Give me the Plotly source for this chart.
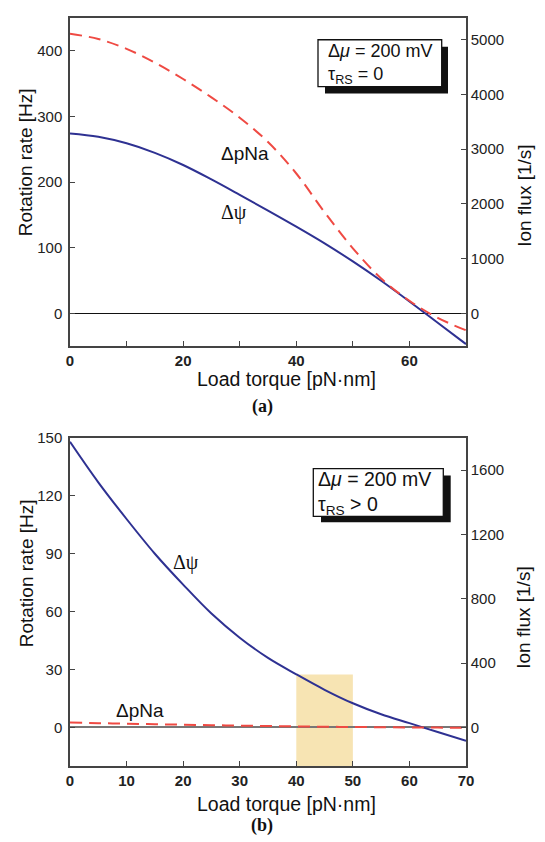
import plotly.graph_objects as go

# ---------------- data ----------------
torque = [0, 5, 10, 15, 20, 25, 30, 35, 40, 45, 50, 55, 60, 65, 70]

# panel (a): tau_RS = 0  (rotation rate, Hz)
rate_a_psi = [274, 269, 259, 244.5, 226, 204, 180.5, 156.5, 132, 106.5, 79, 49.5, 18, -14.5, -47]
rate_a_pna = [426, 418, 403, 382, 357, 329, 298, 261, 213, 154, 99, 53, 19, -7, -26]

# panel (b): tau_RS > 0  (rotation rate, Hz)
rate_b_psi = [148, 127, 108, 90, 74, 59, 46.5, 36, 27.5, 19.5, 12.5, 6.8, 2.2, -2.4, -7]
rate_b_pna = [2.5, 2.2, 1.9, 1.65, 1.4, 1.15, 0.9, 0.7, 0.5, 0.35, 0.2, 0.1, 0.0, -0.1, -0.2]

highlight_torque = [40, 50]
highlight_rate_top = 27.4

xticks_a = [0, 10, 20, 30, 40, 50, 60]
xticklabels_a = ["0", "", "20", "", "40", "", "60"]
xticks_b = [0, 10, 20, 30, 40, 50, 60, 70]
yticks_a = [0, 100, 200, 300, 400]
y2ticks_a = [0, 1000, 2000, 3000, 4000, 5000]
yticks_b = [0, 30, 60, 90, 120, 150]
y2ticks_b = [0, 400, 800, 1200, 1600]

# ---------------- style ----------------
BLUE = "#2E3192"
RED = "#EF4A43"
AXC = "#444444"
SANS = "Liberation Sans, Arial, sans-serif"
SERIF = "Liberation Serif, Times New Roman, serif"
W, H = 545, 842
ML, MR, MT, MB = 70, 79, 9, 76
PW, PH = W - ML - MR, H - MT - MB


def px(xp, yp):
    return (xp - ML) / PW, (H - MB - yp) / PH


fig = go.Figure()
fig.add_trace(go.Scatter(x=torque, y=rate_a_psi, mode="lines", line=dict(color=BLUE, width=2, shape="spline"),
                         xaxis="x", yaxis="y", showlegend=False))
fig.add_trace(go.Scatter(x=torque, y=rate_a_pna, mode="lines",
                         line=dict(color=RED, width=2, dash="12px,7px", shape="spline"),
                         xaxis="x", yaxis="y", showlegend=False))
fig.add_trace(go.Scatter(x=torque, y=rate_b_psi, mode="lines", line=dict(color=BLUE, width=2, shape="spline"),
                         xaxis="x2", yaxis="y3", showlegend=False))
fig.add_trace(go.Scatter(x=torque, y=rate_b_pna, mode="lines",
                         line=dict(color=RED, width=2, dash="12px,7px", shape="spline"),
                         xaxis="x2", yaxis="y3", showlegend=False))
# empty traces so that the right-hand (ion flux) axes are drawn
fig.add_trace(go.Scatter(x=[None], y=[None], xaxis="x", yaxis="y2", showlegend=False, hoverinfo="skip"))
fig.add_trace(go.Scatter(x=[None], y=[None], xaxis="x2", yaxis="y4", showlegend=False, hoverinfo="skip"))

tickfont = dict(family=SANS, size=15, color="#222")
boldtick = dict(family=SANS, size=15, color="#222", weight="bold")
common_ax = dict(showline=True, linecolor=AXC, linewidth=1.5, ticks="inside", ticklen=5,
                 tickcolor=AXC, tickwidth=1, showgrid=False)

dom_top = [1 - (341 - MT) / PH, 1.0]
dom_bot = [0.0, (H - MB - 434) / PH]

fig.update_layout(
    width=W, height=H, margin=dict(l=ML, r=MR, t=MT, b=MB),
    paper_bgcolor="white", plot_bgcolor="white",
    xaxis=dict(domain=[0, 1], anchor="y", range=[0, 70], tickvals=xticks_a, ticktext=xticklabels_a,
               tickfont=boldtick, mirror=True, **common_ax),
    yaxis=dict(domain=dom_top, anchor="x", range=[-50, 450], tickvals=yticks_a, tickfont=tickfont,
               ticklabelstandoff=3, zeroline=True, zerolinecolor="#111", zerolinewidth=1, **common_ax),
    yaxis2=dict(overlaying="y", anchor="x", side="right", range=[-600, 5400], tickvals=y2ticks_a,
                tickfont=tickfont, zeroline=False, **common_ax),
    xaxis2=dict(domain=[0, 1], anchor="y3", range=[0, 70], tickvals=xticks_b, tickfont=boldtick,
                mirror=True, **common_ax),
    yaxis3=dict(domain=dom_bot, anchor="x2", range=[-20, 150], tickvals=yticks_b, tickfont=tickfont,
                ticklabelstandoff=3, zeroline=True, zerolinecolor="#777", zerolinewidth=1.5, **common_ax),
    yaxis4=dict(overlaying="y3", anchor="x2", side="right", range=[-240, 1800], tickvals=y2ticks_b,
                tickfont=tickfont, zeroline=False, **common_ax),
)

shapes = []
# highlight band in panel (b)
shapes.append(dict(type="rect", xref="x2", yref="y3", x0=highlight_torque[0], x1=highlight_torque[1],
                   y0=-20, y1=highlight_rate_top, fillcolor="#F7E4B3", line=dict(width=0), layer="below"))


def info_box(xr, yr, box, shadow):
    shapes.append(dict(type="rect", xref=xr, yref=yr, x0=shadow[0], x1=shadow[1], y0=shadow[2], y1=shadow[3],
                       fillcolor="#111", line=dict(width=0), layer="above"))
    shapes.append(dict(type="rect", xref=xr, yref=yr, x0=box[0], x1=box[1], y0=box[2], y1=box[3],
                       fillcolor="white", line=dict(color="#111", width=1.3), layer="above"))


def dom(xp, yp, top):
    y0 = 341 if top else 766
    return (xp - 70) / 396, (y0 - yp) / 332


# top box
bx0, by1 = dom(318, 31, True); bx1, by0 = dom(441.7, 78.5, True)
sx0, sy1 = dom(325, 38, True); sx1, sy0 = dom(448, 85.5, True)
info_box("x domain", "y domain", (bx0, bx1, by0, by1), (sx0, sx1, sy0, sy1))
# bottom box
bx0, by1 = dom(313.3, 465, False); bx1, by0 = dom(443.3, 513.3, False)
sx0, sy1 = dom(321, 472, False); sx1, sy0 = dom(450.7, 519.3, False)
info_box("x2 domain", "y3 domain", (bx0, bx1, by0, by1), (sx0, sx1, sy0, sy1))

fig.update_layout(shapes=shapes)

ann = []


def txt(text, xp, yp, size=19, family=SANS, angle=0, xanchor="center", bold=False, align="center"):
    x, y = px(xp, yp)
    f = dict(family=family, size=size, color="#111")
    if bold:
        f["weight"] = "bold"
    ann.append(dict(text=text, x=x, y=y, xref="paper", yref="paper", showarrow=False, textangle=angle,
                    xanchor=xanchor, yanchor="middle", font=f, borderpad=0, align=align))


# axis titles
txt("Rotation rate [Hz]", 25, 155, size=19, angle=-90)
txt("Ion flux [1/s]", 525, 189, size=19, angle=-90)
txt("Load torque [pN·nm]", 286, 374.5, size=19.5)
txt("(a)", 262, 402, size=18, family=SERIF, bold=True)
txt("Rotation rate [Hz]", 26, 571, size=19, angle=-90)
txt("Ion flux [1/s]", 524, 616, size=19, angle=-90)
txt("Load torque [pN·nm]", 286, 804, size=19.5)
txt("(b)", 262, 826, size=18, family=SERIF, bold=True)

# curve labels
txt("ΔpNa", 245, 146, size=19)
txt("Δψ", 233.5, 206, size=20, family=SERIF)
txt("Δψ", 186, 560, size=20, family=SERIF)
txt("ΔpNa", 140, 709.5, size=19)

# box texts
txt("Δ<i>μ</i> = 200 mV<br>τ<sub>RS</sub> = 0", 326.5, 55.5, size=18, xanchor="left", align="left")
txt("Δ<i>μ</i> = 200 mV<br>τ<sub>RS</sub> &gt; 0", 316.5, 489.5, size=19.5, xanchor="left", align="left")

fig.update_layout(annotations=ann)
fig.write_html("out.html", post_script="document.body.style.margin='0px';",
               config={"displayModeBar": False})
